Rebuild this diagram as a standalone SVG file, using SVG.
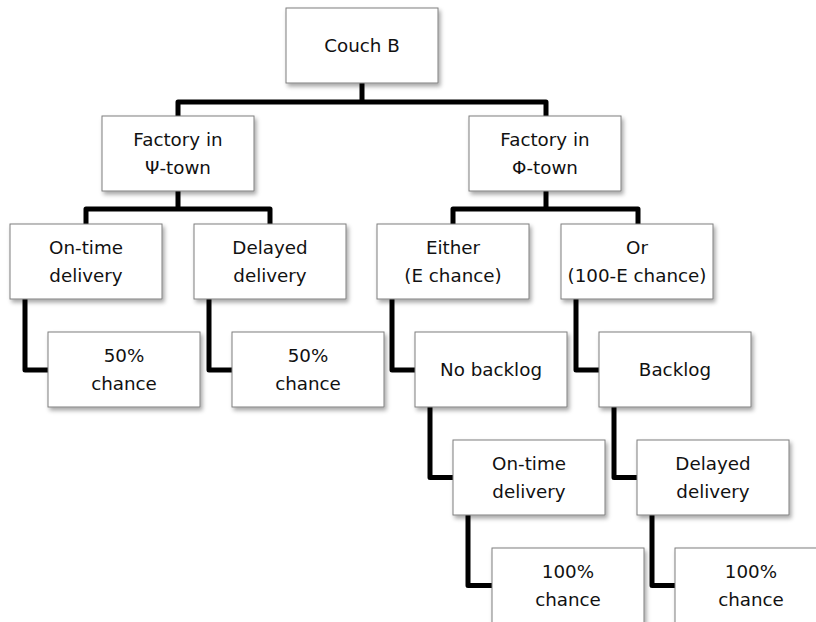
<svg xmlns="http://www.w3.org/2000/svg" width="816" height="622" viewBox="0 0 816 622">
<style>
.box{fill:#fff;stroke:#7f7f7f;stroke-width:1;filter:url(#sh)}
.t{font-family:"DejaVu Sans","Verdana",sans-serif;font-size:18.3px;fill:#111;text-anchor:middle}
.c{fill:none;stroke:#000;stroke-width:5;stroke-linejoin:round;stroke-linecap:butt}
</style>
<defs>
<filter id="sh" x="-10%" y="-10%" width="130%" height="140%">
<feDropShadow dx="2" dy="3" stdDeviation="2" flood-color="#000" flood-opacity="0.35"/>
</filter>
</defs>
<rect width="816" height="622" fill="#fff"/>
<g id="connectors">
<path class="c" d="M362,83 V102 M178,116 V102 H546 V116"/>
<path class="c" d="M178,191 V209 M86,224 V209 H270 V224"/>
<path class="c" d="M546,191 V209 M453,224 V209 H638 V224"/>
<path class="c" d="M25,299 V370 H48"/>
<path class="c" d="M209,299 V370 H232"/>
<path class="c" d="M392,299 V370 H415"/>
<path class="c" d="M576,299 V370 H599"/>
<path class="c" d="M430,407 V477.5 H453"/>
<path class="c" d="M614,407 V477.5 H637"/>
<path class="c" d="M468,515 V585.5 H492"/>
<path class="c" d="M652,515 V585.5 H675"/>
</g>
<g id="couch-b"><rect class="box" x="286" y="8" width="152" height="75"/><text class="t" x="362" y="52">Couch B</text></g>
<g id="factory-psi"><rect class="box" x="102" y="116" width="152" height="75"/><text class="t" x="178" y="146">Factory in</text><text class="t" x="178" y="174">Ψ-town</text></g>
<g id="factory-phi"><rect class="box" x="469" y="116" width="152" height="75"/><text class="t" x="545" y="146">Factory in</text><text class="t" x="545" y="174">Φ-town</text></g>
<g id="ontime-1"><rect class="box" x="10" y="224" width="152" height="75"/><text class="t" x="86" y="254">On-time</text><text class="t" x="86" y="282">delivery</text></g>
<g id="delayed-1"><rect class="box" x="194" y="224" width="152" height="75"/><text class="t" x="270" y="254">Delayed</text><text class="t" x="270" y="282">delivery</text></g>
<g id="either"><rect class="box" x="377" y="224" width="152" height="75"/><text class="t" x="453" y="254">Either</text><text class="t" x="453" y="282">(E chance)</text></g>
<g id="or"><rect class="box" x="561" y="224" width="152" height="75"/><text class="t" x="637" y="254">Or</text><text class="t" x="637" y="282">(100-E chance)</text></g>
<g id="fifty-1"><rect class="box" x="48" y="332" width="152" height="75"/><text class="t" x="124" y="362">50%</text><text class="t" x="124" y="390">chance</text></g>
<g id="fifty-2"><rect class="box" x="232" y="332" width="152" height="75"/><text class="t" x="308" y="362">50%</text><text class="t" x="308" y="390">chance</text></g>
<g id="no-backlog"><rect class="box" x="415" y="332" width="152" height="75"/><text class="t" x="491" y="376">No backlog</text></g>
<g id="backlog"><rect class="box" x="599" y="332" width="152" height="75"/><text class="t" x="675" y="376">Backlog</text></g>
<g id="ontime-2"><rect class="box" x="453" y="440" width="152" height="75"/><text class="t" x="529" y="470">On-time</text><text class="t" x="529" y="498">delivery</text></g>
<g id="delayed-2"><rect class="box" x="637" y="440" width="152" height="75"/><text class="t" x="713" y="470">Delayed</text><text class="t" x="713" y="498">delivery</text></g>
<g id="hundred-1"><rect class="box" x="492" y="548" width="152" height="75"/><text class="t" x="568" y="578">100%</text><text class="t" x="568" y="606">chance</text></g>
<g id="hundred-2"><rect class="box" x="675" y="548" width="152" height="75"/><text class="t" x="751" y="578">100%</text><text class="t" x="751" y="606">chance</text></g>
</svg>
